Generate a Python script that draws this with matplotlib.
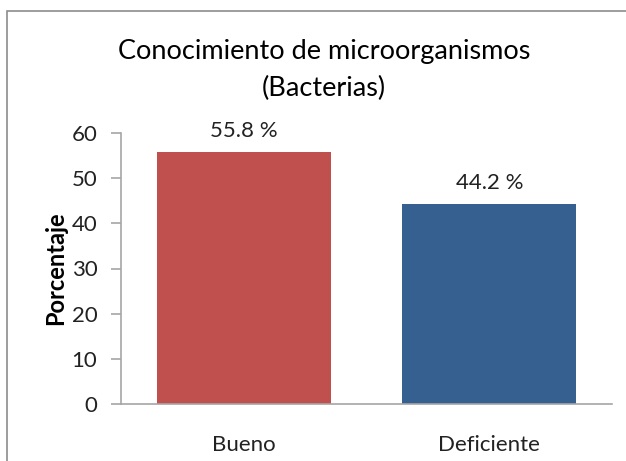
import matplotlib.pyplot as plt
from matplotlib.patches import Rectangle

# Datos
categorias = ['Bueno', 'Deficiente']
porcentajes = [55.8, 44.2]
colores = ['#C0504D', '#35608F']
yticks = [0, 10, 20, 30, 40, 50, 60]

plt.rcParams['font.family'] = ['Lato', 'DejaVu Sans']

fig = plt.figure(figsize=(6.26, 4.61), dpi=100)
ax = fig.add_axes([121 / 626, 57 / 461, 491 / 626, 271 / 461])

# Marco del gráfico
fig.patches.append(Rectangle((7 / 626, -0.1), 1.2, 1.1 - 11 / 461, transform=fig.transFigure,
                             fill=False, edgecolor='#8C8C8C', linewidth=1.2, clip_on=False))

barras = ax.bar(categorias, porcentajes, width=0.71, color=colores)
for b, v in zip(barras, porcentajes):
    ax.annotate(f'{v} %', (b.get_x() + b.get_width() / 2, v), xytext=(0, 8),
                textcoords='offset points', ha='center', va='bottom', fontsize=16, color='#222222')

ax.set_ylim(0, 60)
ax.set_xlim(-0.5, 1.5)
ax.set_yticks(yticks)
ax.tick_params(axis='y', length=7, width=1.2, color='#A6A6A6', labelsize=16, pad=10, labelcolor='#222222')
ax.tick_params(axis='x', length=0, labelsize=16, pad=22, labelcolor='#222222')
for s in ['top', 'right']:
    ax.spines[s].set_visible(False)
for s in ['left', 'bottom']:
    ax.spines[s].set_color('#A6A6A6')
    ax.spines[s].set_linewidth(1.2)

ax.set_ylabel('Porcentaje', fontsize=17, fontweight='bold', labelpad=3.5)

fig.text(324 / 626, 1 - 52 / 461, 'Conocimiento de microorganismos', ha='center', va='center', fontsize=19.5)
fig.text(324 / 626, 1 - 88 / 461, '(Bacterias)', ha='center', va='center', fontsize=19.5)

fig.savefig('out.png', dpi=100)
